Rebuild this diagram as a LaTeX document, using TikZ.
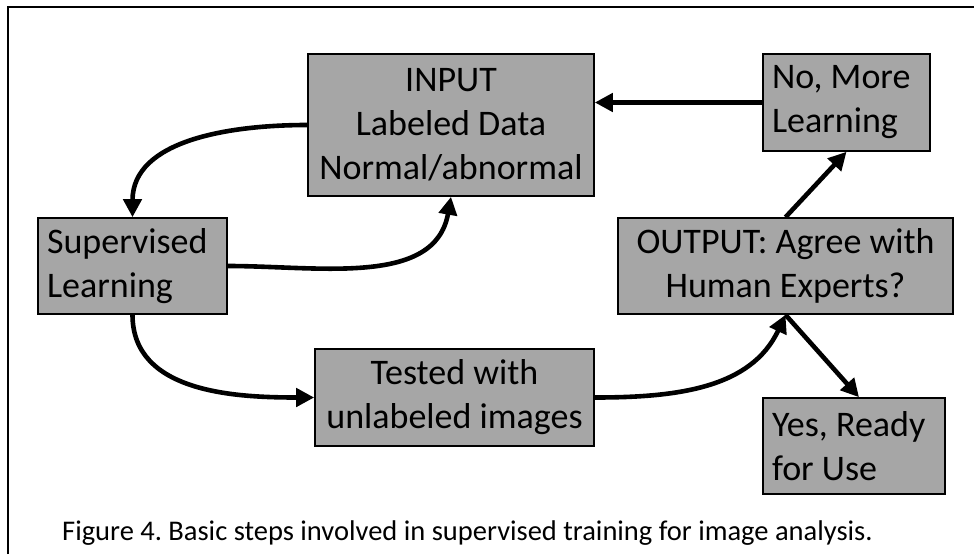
\documentclass[tikz,border=0pt]{standalone}
\usepackage{fontspec}
\setmainfont{Carlito}
\usetikzlibrary{arrows.meta}
\definecolor{boxgray}{HTML}{A6A6A6}
\frenchspacing
\tikzset{
  stepbox/.style={draw=black, fill=boxgray, line width=1.6pt, inner sep=0pt,
    font=\fontsize{36}{44}\selectfont},
  centerbox/.style={stepbox, align=center},
  leftbox/.style={stepbox, align=flush left},
  flow/.style={line width=4.6pt, -{Triangle[length=18pt,width=18pt]}},
}
\begin{document}
\begin{tikzpicture}[x=1pt, y=-1pt]
  \useasboundingbox (0,0) rectangle (974,554);
  \fill[white] (0,0) rectangle (974,554);
  % outer frame (left and top edges)
  \draw[line width=2pt] (8,554) -- (8,7) -- (974,7);

  % step boxes
  \node[centerbox, minimum width=286pt, minimum height=142pt] (input) at (451,125)
    {INPUT\\Labeled Data\\Normal/abnormal};
  \node[leftbox, minimum width=189pt, minimum height=96pt, text width=171pt]
    (sup) at (132.5,266) {Supervised\\Learning};
  \node[centerbox, minimum width=279pt, minimum height=97pt] (test) at (454.5,397.5)
    {Tested with\\unlabeled images};
  \node[centerbox, minimum width=335pt, minimum height=96pt] (out) at (785.5,266)
    {OUTPUT: Agree with\\Human Experts?};
  \node[leftbox, minimum width=167pt, minimum height=97pt, text width=149pt]
    (more) at (846.5,102.5) {No, More\\Learning};
  \node[leftbox, minimum width=182pt, minimum height=96pt, text width=164pt]
    (ready) at (854,446) {Yes, Ready\\for Use};

  % connectors
  \draw[flow] (input.west) to[out=180, in=90] (sup.north);
  \draw[flow] (sup.east) to[out=0, in=-100] (input.south);
  \draw[flow] (sup.south) to[out=-90, in=180] (test.west);
  \draw[flow] (test.east) to[out=0, in=-115] (out.south);
  \draw[flow] (out.north) -- (more.south);
  \draw[flow] (out.south) -- ([xshift=5pt]ready.north);
  \draw[flow] (more.west) -- (more.west -| input.east);

  % caption
  \node[anchor=base west, inner sep=0pt, font=\fontsize{28.5}{34}\selectfont] (cap) at (62,540)
    {Figure 4. Basic steps involved in supervised training for image analysis.};
\end{tikzpicture}
\end{document}
